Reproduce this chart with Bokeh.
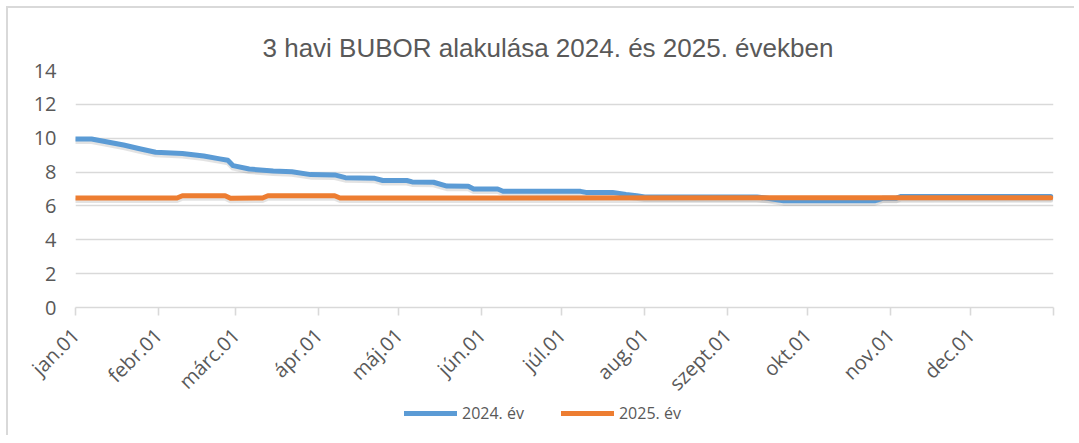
import pandas as pd
from bokeh.plotting import figure
from bokeh.layouts import column
from bokeh.models import ColumnDataSource, FixedTicker, Legend, LegendItem, Title
from bokeh.transform import dodge
from bokeh.embed import file_html
from bokeh.resources import INLINE

TITLE = "3 havi BUBOR alakulása 2024. és 2025. években"

MONTH_STARTS = ["01-01", "02-01", "03-01", "04-01", "05-01", "06-01",
                "07-01", "08-01", "09-01", "10-01", "11-01", "12-01"]
MONTH_LABELS = ["jan.01", "febr.01", "márc.01", "ápr.01", "máj.01", "jún.01",
                "júl.01", "aug.01", "szept.01", "okt.01", "nov.01", "dec.01"]
Y_TICKS = [0, 2, 4, 6, 8, 10, 12, 14]

SERIES_2024_NAME = "2024. év"
DATES_2024 = ["01-01", "01-07", "01-13", "01-19", "01-25", "01-31", "02-10", "02-18",
              "02-24", "02-27", "02-29", "03-06", "03-15", "03-22", "03-29", "04-07",
              "04-11", "04-22", "04-25", "05-04", "05-06", "05-14", "05-19", "05-27",
              "05-29", "06-07", "06-09", "07-08", "07-10", "07-20", "07-25", "07-29",
              "08-01", "09-12", "09-16", "09-22", "10-26", "10-29", "11-03", "11-05",
              "12-31"]
VALUES_2024 = [9.95, 9.95, 9.78, 9.60, 9.38, 9.17, 9.10, 8.95,
               8.78, 8.70, 8.38, 8.18, 8.07, 8.02, 7.85, 7.83,
               7.67, 7.63, 7.50, 7.50, 7.42, 7.40, 7.17, 7.16,
               7.00, 7.00, 6.87, 6.86, 6.80, 6.80, 6.67, 6.60,
               6.53, 6.53, 6.45, 6.30, 6.30, 6.45, 6.45, 6.56,
               6.56]

SERIES_2025_NAME = "2025. év"
DATES_2025 = ["01-01", "02-08", "02-10", "02-26", "02-28", "03-11", "03-13", "04-07",
              "04-09", "12-31"]
VALUES_2025 = [6.47, 6.47, 6.60, 6.60, 6.45, 6.47, 6.60, 6.60,
               6.47, 6.48]

COLOR_2024 = "#5B9BD5"
COLOR_2025 = "#ED7D31"


def day_index(md):
    return pd.Timestamp("2024-" + md).dayofyear - 1


x_ticks = [day_index(m) for m in MONTH_STARTS] + [366]
overrides = {t: lab for t, lab in zip(x_ticks, MONTH_LABELS)}
overrides[366] = ""

src24 = ColumnDataSource(dict(x=[day_index(d) for d in DATES_2024], y=VALUES_2024))
src25 = ColumnDataSource(dict(x=[day_index(d) for d in DATES_2025], y=VALUES_2025))

TEXT = "#595959"
GRID = "#d9d9d9"

p = figure(width=1066, height=400, x_range=(0, 366), y_range=(0, 14),
           output_backend="svg", toolbar_location=None,
           min_border_left=67, min_border_right=21, min_border_top=62,
           min_border_bottom=100)

p.title = Title(text=TITLE, align="left", offset=187, text_font="Liberation Sans",
                text_font_size="26px", text_font_style="normal", text_color=TEXT,
                standoff=15)
p.outline_line_color = None
p.background_fill_color = "white"
p.border_fill_color = "white"

p.xgrid.grid_line_color = None
p.ygrid.grid_line_color = GRID
p.ygrid.grid_line_width = 1.4
p.yaxis.ticker = FixedTicker(ticks=Y_TICKS)
p.ygrid.ticker = FixedTicker(ticks=Y_TICKS)

p.yaxis.axis_line_color = None
p.yaxis.major_tick_line_color = None
p.yaxis.minor_tick_line_color = None
p.yaxis.major_label_standoff = 13
p.yaxis.major_label_text_font = "Open Sans"
p.yaxis.major_label_text_font_size = "20px"
p.yaxis.major_label_text_color = TEXT

p.xaxis.ticker = FixedTicker(ticks=x_ticks)
p.xaxis.major_label_overrides = overrides
p.xaxis.major_label_orientation = 0.7853981634
p.xaxis.axis_line_color = GRID
p.xaxis.axis_line_width = 1.6
p.xaxis.major_tick_line_color = GRID
p.xaxis.major_tick_line_width = 1.6
p.xaxis.major_tick_in = 0
p.xaxis.major_tick_out = 8
p.xaxis.minor_tick_line_color = None
p.xaxis.major_label_standoff = 16
p.xaxis.major_label_text_font = "Open Sans"
p.xaxis.major_label_text_font_size = "20px"
p.xaxis.major_label_text_color = TEXT

# soft drop shadows (as in the original)
for src in (src24, src25):
    p.line(x="x", y=dodge("y", -0.15), source=src, line_color="#7f7f7f",
           line_alpha=0.22, line_width=5, line_cap="round", line_join="round")

p.line(x="x", y="y", source=src24, line_color=COLOR_2024, line_width=5,
       line_cap="round", line_join="round")
p.line(x="x", y="y", source=src25, line_color=COLOR_2025, line_width=5,
       line_cap="round", line_join="round")

# legend strip below the chart (its own line renderers fall outside its view)
leg = figure(width=1066, height=41, x_range=(0, 1), y_range=(0, 1),
             output_backend="svg", toolbar_location=None,
             x_axis_type=None, y_axis_type=None, min_border=0,
             styles={"margin-top": "-14px"})
leg.outline_line_color = None
leg.background_fill_color = None
leg.border_fill_color = None
leg.xgrid.grid_line_color = None
leg.ygrid.grid_line_color = None
l24 = leg.line(x="x", y="y", source=src24, line_color=COLOR_2024, line_width=5,
               line_cap="round")
l25 = leg.line(x="x", y="y", source=src25, line_color=COLOR_2025, line_width=5,
               line_cap="round")
legend = Legend(items=[LegendItem(label=SERIES_2024_NAME, renderers=[l24]),
                       LegendItem(label=SERIES_2025_NAME, renderers=[l25])],
                orientation="horizontal", location=(329, 11),
                glyph_width=53, glyph_height=20, label_standoff=5, spacing=37,
                padding=0, margin=0, border_line_color=None,
                background_fill_alpha=0,
                label_text_font="Open Sans", label_text_font_size="16px",
                label_text_color=TEXT)
leg.add_layout(legend)

page = column(p, leg, spacing=0,
              styles={"margin-left": "6px", "margin-top": "6px",
                      "border-left": "2px solid #d9d9d9", "border-top": "2px solid #d9d9d9"})

open("out.html", "w").write(file_html(page, INLINE))
